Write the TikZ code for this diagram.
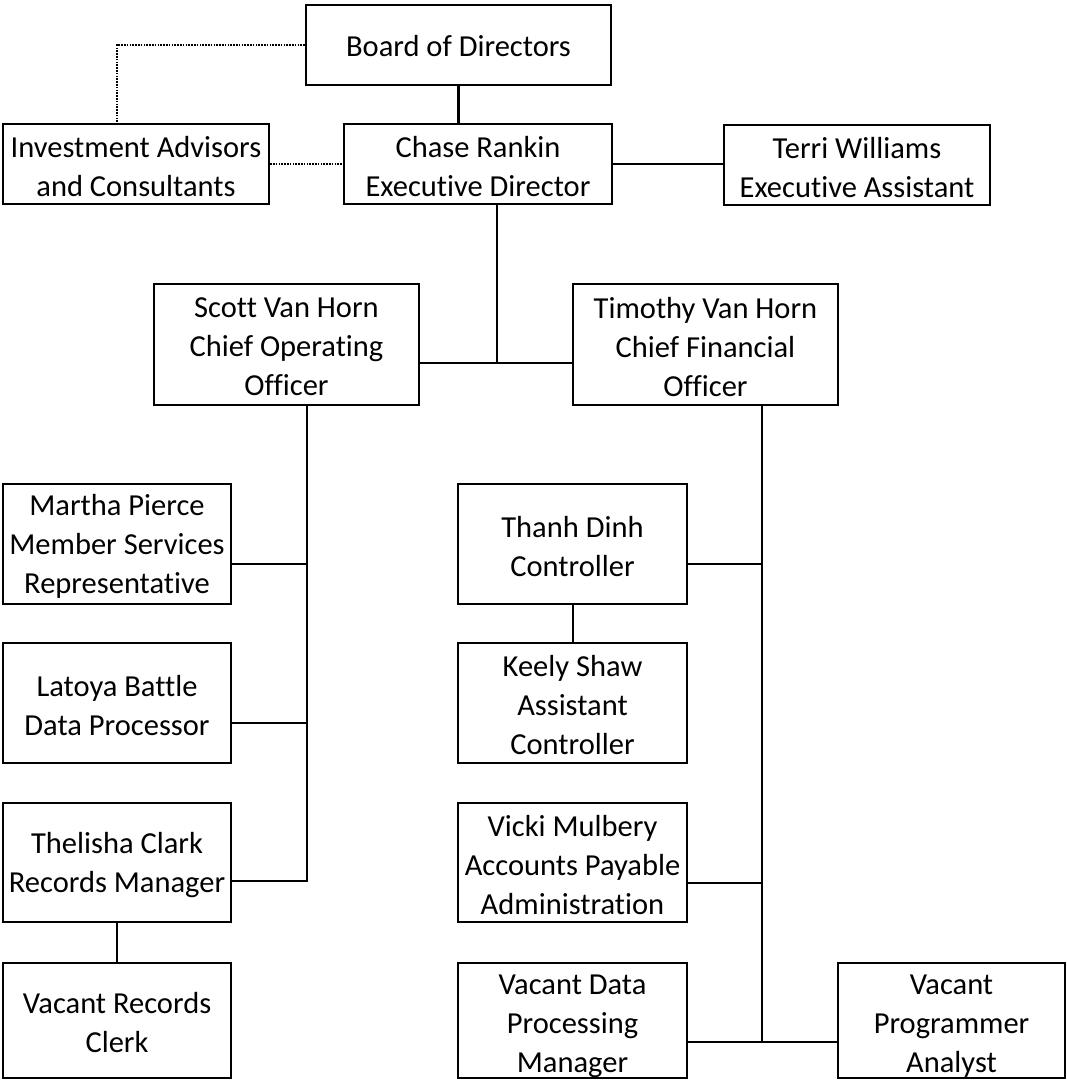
\documentclass[tikz,border=0pt]{standalone}
\usepackage{fontspec}
\setmainfont{Carlito}[Ligatures={NoCommon}]
\newcommand\orgbox[7]{%
  \node[box, minimum width=#4pt, minimum height=#5pt,
    label={[lbl,yshift=-#6pt]center:{#7}}] (#1) at (#2,#3) {};}
\begin{document}
\begin{tikzpicture}[x=1pt,y=-1pt,
  box/.style={draw, line width=2.3pt, inner sep=0pt},
  lbl/.style={inner sep=0pt, align=center, font=\fontsize{30.5}{39}\selectfont},
  conn/.style={line width=2.3pt},
  dotconn/.style={line width=1.4pt, dash pattern=on 1.6pt off 1.2pt}]
\useasboundingbox (0,0) rectangle (1067,1082);

\orgbox{board}{458.5}{45}{305}{80}{1}{Board of Directors}
\orgbox{inv}{136}{164}{266}{80}{2.5}{Investment Advisors\\and Consultants}
\orgbox{chase}{478}{164}{268}{80}{2.5}{Chase Rankin\\Executive Director}
\orgbox{terri}{857}{165}{266}{80}{2.5}{Terri Williams\\Executive Assistant}
\orgbox{scott}{286.5}{344.5}{265}{121}{2.5}{Scott Van Horn\\Chief Operating\\Officer}
\orgbox{tim}{705.5}{344.5}{265}{121}{2.5}{Timothy Van Horn\\Chief Financial\\Officer}
\orgbox{martha}{117}{544}{228}{120}{2.5}{Martha Pierce\\Member Services\\Representative}
\orgbox{latoya}{117}{703}{228}{120}{2.5}{Latoya Battle\\Data Processor}
\orgbox{thel}{117}{862.5}{228}{119}{2.5}{Thelisha Clark\\Records Manager}
\orgbox{vrc}{117}{1020.5}{228}{115}{2}{Vacant Records\\Clerk}
\orgbox{thanh}{572.5}{544}{229}{120}{2.5}{Thanh Dinh\\Controller}
\orgbox{keely}{572.5}{703}{229}{120}{2.5}{Keely Shaw\\Assistant\\Controller}
\orgbox{vicki}{572.5}{862.5}{229}{119}{2.5}{Vicki Mulbery\\Accounts Payable\\Administration}
\orgbox{vdp}{572.5}{1020.5}{229}{115}{6}{Vacant Data\\Processing\\Manager}
\orgbox{vpa}{951.5}{1020.5}{227}{115}{6}{Vacant\\Programmer\\Analyst}

% junction coordinates
\coordinate (j) at (497,363);
\coordinate (sm) at (307,564);
\coordinate (sl) at (307,723);
\coordinate (st) at (307,881);
\coordinate (tt) at (762,564);
\coordinate (tv) at (762,883);
\coordinate (tb) at (762,1042);

% dotted advisory lines
\draw[dotconn] (board.west) -| ([xshift=-19pt]inv.north);
\draw[dotconn] (inv.east) -- (chase.west);

% top
\draw[conn] (board.south) -- (board.south |- chase.north);
\draw[conn] (chase.east) -- (chase.east -| terri.west);
\draw[conn] (chase.south -| j) -- (j);
\draw[conn] (scott.east |- j) -- (tim.west |- j);

% left trunk
\draw[conn] (scott.south -| st) -- (st) -- (thel.east |- st);
\draw[conn] (martha.east |- sm) -- (sm);
\draw[conn] (latoya.east |- sl) -- (sl);
\draw[conn] (thel.south) -- (vrc.north);

% right trunk
\draw[conn] (tim.south -| tb) -- (tb);
\draw[conn] (thanh.east |- tt) -- (tt);
\draw[conn] (vicki.east |- tv) -- (tv);
\draw[conn] (vdp.east |- tb) -- (vpa.west |- tb);
\draw[conn] ([xshift=0.5pt]thanh.south) -- ([xshift=0.5pt]keely.north);
\end{tikzpicture}
\end{document}
